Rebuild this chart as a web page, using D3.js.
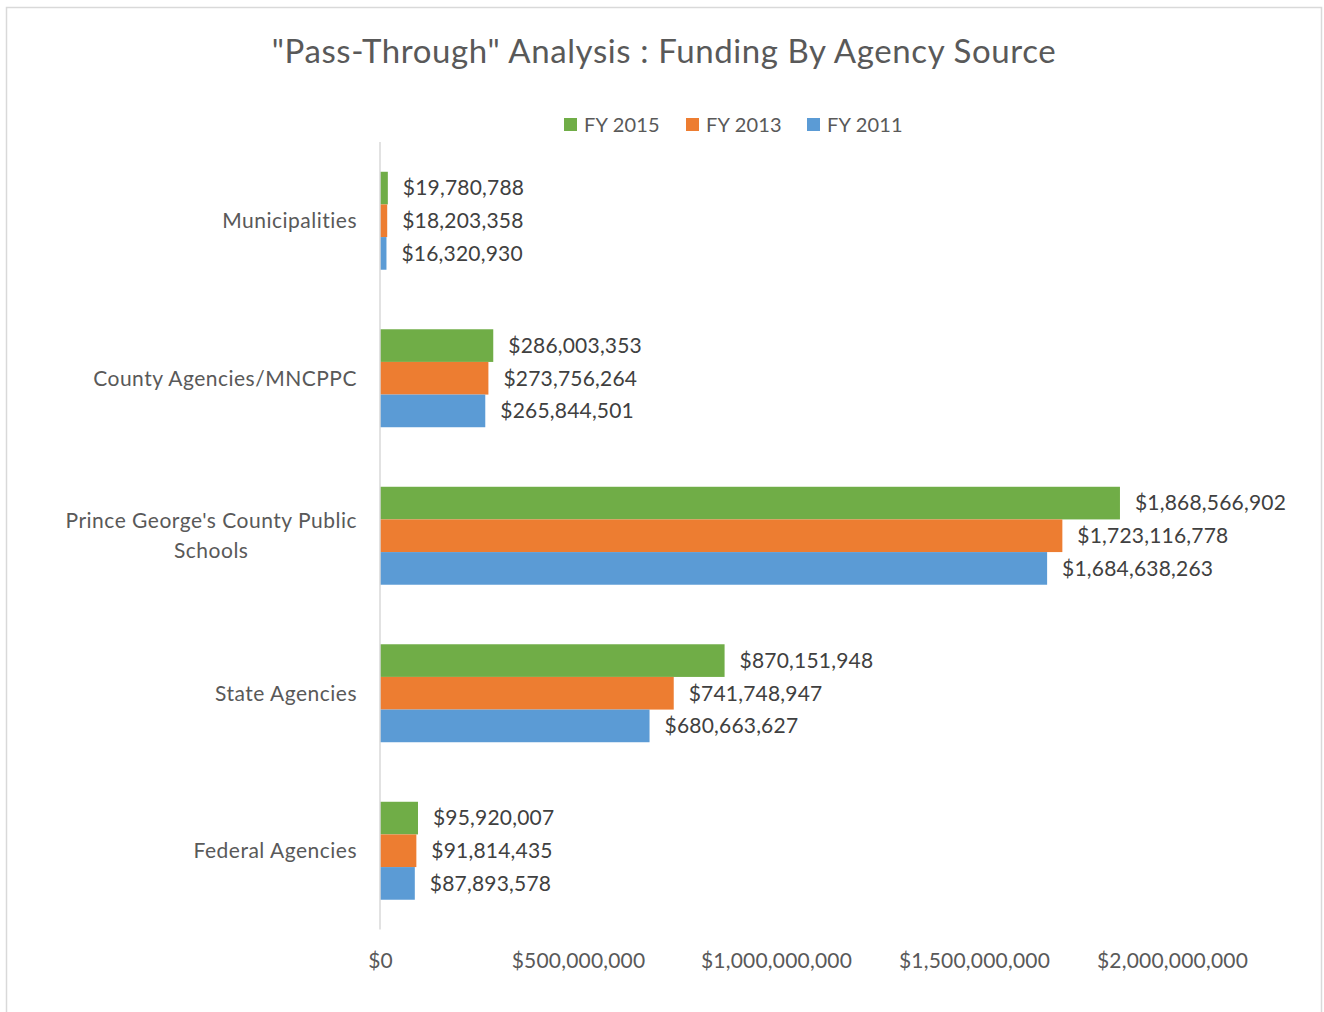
<!DOCTYPE html>
<html><head><meta charset="utf-8">
<script src="https://cdn.jsdelivr.net/npm/d3@7"></script>
<style>body{margin:0;background:#fff;} text{font-family:Lato, "Open Sans", sans-serif;}</style>
</head><body>
<svg id="c" width="1324" height="1012"></svg>
<script>
const categories = ["Municipalities", "County Agencies/MNCPPC", "Prince George's County Public Schools", "State Agencies", "Federal Agencies"];
const categoryLines = [["Municipalities"], ["County Agencies/MNCPPC"], ["Prince George's County Public", "Schools"], ["State Agencies"], ["Federal Agencies"]];
const seriesNames = ["FY 2015", "FY 2013", "FY 2011"];
const fy2015 = [19780788, 286003353, 1868566902, 870151948, 95920007];
const fy2013 = [18203358, 273756264, 1723116778, 741748947, 91814435];
const fy2011 = [16320930, 265844501, 1684638263, 680663627, 87893578];
const tickValues = [0, 500000000, 1000000000, 1500000000, 2000000000];
const colors = ["#70ad47", "#ed7d31", "#5b9bd5"];
const series = [fy2015, fy2013, fy2011];

const svg = d3.select("#c");
svg.append("rect").attr("x", 6.5).attr("y", 7.5).attr("width", 1315).attr("height", 1020)
  .attr("fill", "#fff").attr("stroke", "#d9d9d9").attr("stroke-width", 1.5);

svg.append("text").attr("x", 664).attr("y", 63).attr("text-anchor", "middle")
  .attr("font-size", 33).attr("letter-spacing", 0.6).attr("fill", "#595959")
  .text("\"Pass-Through\" Analysis : Funding By Agency Source");

const x = d3.scaleLinear().domain([0, 2000000000]).range([380, 1172]);
const y = d3.scaleBand().domain(categories).range([142, 929.5]).paddingInner(0.378).paddingOuter(0.189);
const y1 = d3.scaleBand().domain(seriesNames).range([0, y.bandwidth()]);

const fmt = v => "$" + d3.format(",")(v);

// axis labels
const xAxis = d3.axisBottom(x).tickValues(tickValues).tickFormat(fmt).tickSize(0).tickPadding(0);
const gx = svg.append("g").attr("transform", "translate(0,953)").call(xAxis);
gx.select(".domain").remove();
gx.selectAll("text").attr("font-size", 21).attr("letter-spacing", 0.2).attr("fill", "#595959")
  .attr("font-family", "Lato, 'Open Sans', sans-serif").attr("dy", "0.71em");

// bars
series.forEach((vals, si) => {
  const g = svg.append("g");
  g.selectAll("rect").data(vals).enter().append("rect")
    .attr("x", x(0)).attr("y", (d, i) => y(categories[i]) + y1(seriesNames[si]))
    .attr("width", d => x(d) - x(0)).attr("height", y1.bandwidth())
    .attr("fill", colors[si]);
  g.selectAll("text").data(vals).enter().append("text")
    .attr("x", d => x(d) + 15).attr("y", (d, i) => y(categories[i]) + y1(seriesNames[si]) + y1.bandwidth() / 2)
    .attr("dy", "0.35em").attr("font-size", 21).attr("letter-spacing", 0.2).attr("fill", "#404040").text(fmt);
});

// vertical axis line
svg.append("line").attr("x1", x(0)).attr("x2", x(0)).attr("y1", 142).attr("y2", 929.5)
  .attr("stroke", "#d9d9d9").attr("stroke-width", 1.5);

// category labels
categories.forEach((c, i) => {
  const lines = categoryLines[i];
  const cy = y(c) + y.bandwidth() / 2;
  const t = svg.append("text").attr("font-size", 21).attr("letter-spacing", 0.5).attr("fill", "#595959").attr("text-anchor", "middle");
  const lh = 30;
  lines.forEach((ln, j) => {
    t.append("tspan").attr("y", cy + (j - (lines.length - 1) / 2) * lh).attr("dy", "0.35em").text(ln);
  });
  let maxW = 0;
  t.selectAll("tspan").each(function () { maxW = Math.max(maxW, this.getComputedTextLength()); });
  t.selectAll("tspan").attr("x", 357 - maxW / 2);
});

// legend
const legX = [564, 686, 807];
seriesNames.forEach((s, i) => {
  svg.append("rect").attr("x", legX[i]).attr("y", 118).attr("width", 13).attr("height", 13).attr("fill", colors[i]);
  svg.append("text").attr("x", legX[i] + 20).attr("y", 125).attr("dy", "0.35em")
    .attr("font-size", 20).attr("letter-spacing", 0.2).attr("fill", "#595959").text(s);
});
</script>
</body></html>
